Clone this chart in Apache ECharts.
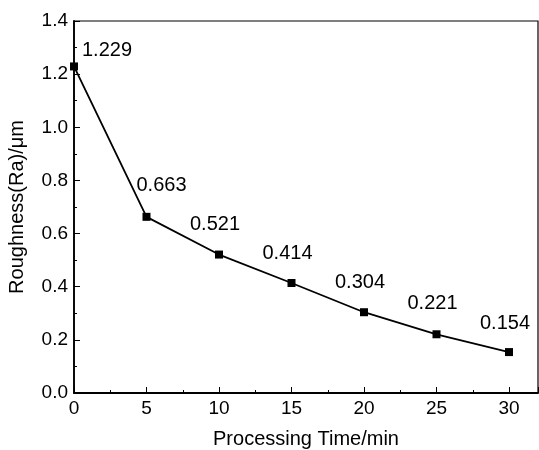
<!DOCTYPE html>
<html>
<head>
<meta charset="utf-8">
<script src="https://cdn.jsdelivr.net/npm/echarts@6/dist/echarts.min.js"></script>
<style>
  html, body { margin: 0; padding: 0; background: #fff; }
  #chart { width: 539px; height: 450px; }
</style>
</head>
<body>
<div id="chart"></div>
<script>
const times = [0, 5, 10, 15, 20, 25, 30];
const roughness = [1.229, 0.663, 0.521, 0.414, 0.304, 0.221, 0.154];
// label offsets per point
const labelOffsets = [[33, -16], [15, -31], [-4, -30], [-4, -30], [-4, -30], [-4, -31], [-4, -29]];

const font = 'Liberation Sans, Arial, sans-serif';
const chart = echarts.init(document.getElementById('chart'));

const seriesData = times.map((t, i) => ({
    value: [t, roughness[i]],
    label: { offset: labelOffsets[i] }
}));

chart.setOption({
    animation: false,
    grid: {
        left: 74, top: 21, right: 1, bottom: 57,
        outerBoundsMode: 'none',
        containLabel: false,
        show: true, borderColor: '#000', borderWidth: 1.2, backgroundColor: 'transparent'
    },
    xAxis: {
        type: 'value',
        min: 0, max: 32, interval: 5,
        name: 'Processing Time/min',
        nameLocation: 'middle',
        nameGap: 36,
        nameTextStyle: { fontFamily: font, fontSize: 20, color: '#000' },
        axisLine: { lineStyle: { color: '#000', width: 1.8 } },
        axisTick: { inside: true, length: 6, lineStyle: { color: '#000' } },
        minorTick: { show: true, splitNumber: 2, length: 3, lineStyle: { color: '#000' } },
        splitLine: { show: false },
        axisLabel: {
            fontFamily: font, fontSize: 19, color: '#000', margin: 6,
            showMaxLabel: false,
            formatter: v => (v > 30 ? '' : v)
        }
    },
    yAxis: {
        type: 'value',
        min: 0, max: 1.4, interval: 0.2,
        name: 'Roughness(Ra)/μm',
        nameLocation: 'middle',
        nameGap: 47,
        nameTextStyle: { fontFamily: font, fontSize: 20, color: '#000' },
        axisLine: { lineStyle: { color: '#000', width: 1.8 } },
        axisTick: { inside: true, length: 6, lineStyle: { color: '#000' } },
        minorTick: { show: true, splitNumber: 2, length: 3, lineStyle: { color: '#000' } },
        splitLine: { show: false },
        axisLabel: {
            fontFamily: font, fontSize: 19, color: '#000', margin: 6,
            formatter: v => v.toFixed(1)
        }
    },
    series: [{
        type: 'line',
        data: seriesData,
        symbol: 'rect',
        symbolSize: 8,
        itemStyle: { color: '#000' },
        lineStyle: { color: '#000', width: 1.8 },
        label: {
            show: true,
            position: 'inside',
            fontFamily: font, fontSize: 20, color: '#000',
            formatter: p => p.value[1].toFixed(3)
        }
    }]
});
</script>
</body>
</html>
